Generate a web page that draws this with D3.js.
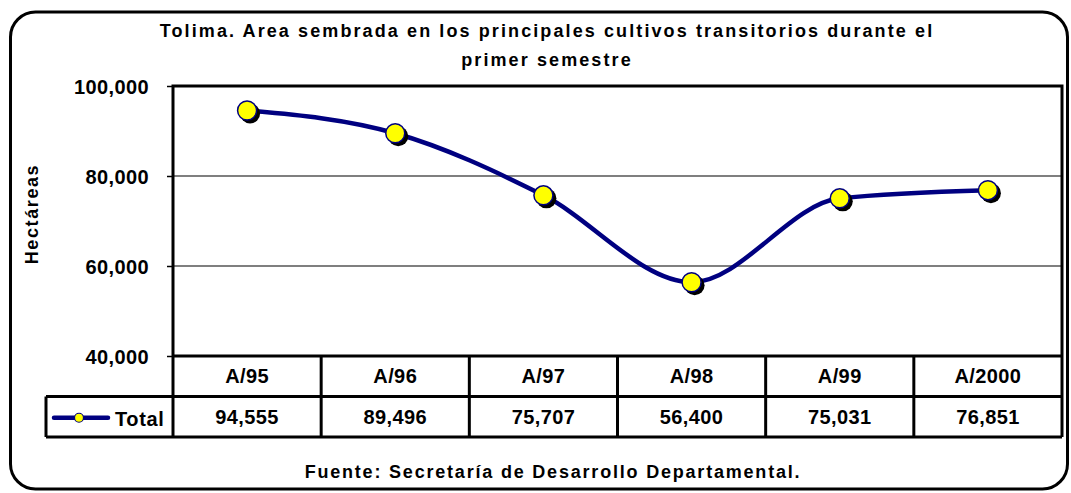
<!DOCTYPE html>
<html><head><meta charset="utf-8">
<script src="https://cdn.jsdelivr.net/npm/d3@7"></script>
<style>
body{margin:0;background:#fff;}
text{font-family:"Liberation Sans",Arial,sans-serif;font-weight:bold;fill:#000;}
</style></head>
<body><svg id="c" width="1071" height="493"></svg>
<script>
const categories = ["A/95","A/96","A/97","A/98","A/99","A/2000"];
const values = [94555, 89496, 75707, 56400, 75031, 76851];
const yTicks = [40000, 60000, 80000, 100000];
const seriesName = "Total";
const titleLines = ["Tolima. Area sembrada en los principales cultivos transitorios durante el","primer semestre"];
const yLabel = "Hectáreas";
const footer = "Fuente: Secretaría de Desarrollo Departamental.";

const svg = d3.select("#c");
const L = 173, R = 1062, T = 86, B = 356, rowH = 40.5, legL = 46;
const fmt = d3.format(",");

svg.append("rect").attr("x",10.5).attr("y",12).attr("width",1057).attr("height",477)
  .attr("rx",25).attr("ry",25).attr("fill","#fff").attr("stroke","#000").attr("stroke-width",3);

const x = d3.scaleBand().domain(categories).range([L,R]);
const y = d3.scaleLinear().domain([40000,100000]).range([B,T]);

// title
svg.selectAll("text.title").data(titleLines).join("text").attr("class","title")
  .attr("x",547).attr("y",(d,i)=>37+i*29).attr("text-anchor","middle")
  .style("font-size","18px").style("letter-spacing","2.1px").text(d=>d);

// gridlines
svg.append("g").selectAll("line").data(yTicks.filter(t=>t>40000&&t<100000)).join("line")
  .attr("x1",L).attr("x2",R).attr("y1",d=>y(d)).attr("y2",d=>y(d))
  .attr("stroke","#555").attr("stroke-width",1.5);

// y axis
const yAxis = svg.append("g").attr("transform",`translate(${L},0)`)
  .call(d3.axisLeft(y).tickValues(yTicks).tickFormat(fmt).tickSize(6).tickPadding(18));
yAxis.select(".domain").remove();
yAxis.selectAll(".tick line").attr("stroke","#000").attr("stroke-width",1.5);
yAxis.selectAll(".tick text").style("font-size","20px").style("letter-spacing","0.4px")
  .style("font-family","Liberation Sans, Arial, sans-serif").style("font-weight","bold").attr("fill","#000").attr("dy","0.35em");

// plot border
svg.append("path").attr("d",`M${L},${B}V${T}H${R}V${B}`).attr("fill","none").attr("stroke","#000").attr("stroke-width",3);
svg.append("line").attr("x1",L).attr("x2",R).attr("y1",B).attr("y2",B).attr("stroke","#000").attr("stroke-width",3);

// y label
svg.append("text").attr("transform",`translate(38,214) rotate(-90)`).attr("text-anchor","middle")
  .style("font-size","18px").style("letter-spacing","1.6px").text(yLabel);

// line
const cx = d => x(d)+x.bandwidth()/2;
const line = d3.line().x((d,i)=>cx(categories[i])).y(d=>y(d)).curve(d3.curveMonotoneX);
svg.append("path").datum(values).attr("d",line).attr("fill","none").attr("stroke","#000080").attr("stroke-width",4.5);

// markers
const mk = svg.append("g");
mk.selectAll("circle.sh").data(values).join("circle").attr("class","sh")
  .attr("cx",(d,i)=>cx(categories[i])+3).attr("cy",d=>y(d)+3).attr("r",10).attr("fill","#000");
mk.selectAll("circle.pt").data(values).join("circle").attr("class","pt")
  .attr("cx",(d,i)=>cx(categories[i])).attr("cy",d=>y(d)).attr("r",9.5)
  .attr("fill","#ffff00").attr("stroke","#000080").attr("stroke-width",1.5);

// data table
const tb = svg.append("g");
const r1 = B + rowH, r2 = B + 2*rowH;
tb.append("line").attr("x1",legL).attr("x2",R).attr("y1",r1).attr("y2",r1).attr("stroke","#000").attr("stroke-width",3);
tb.append("line").attr("x1",legL).attr("x2",R).attr("y1",r2).attr("y2",r2).attr("stroke","#000").attr("stroke-width",3);
tb.append("line").attr("x1",legL).attr("x2",legL).attr("y1",r1).attr("y2",r2).attr("stroke","#000").attr("stroke-width",3);
tb.selectAll("line.col").data(categories.concat(["_end"])).join("line").attr("class","col")
  .attr("x1",(d,i)=>L+i*x.bandwidth()).attr("x2",(d,i)=>L+i*x.bandwidth())
  .attr("y1",B).attr("y2",r2).attr("stroke","#000").attr("stroke-width",3);
tb.selectAll("text.cat").data(categories).join("text").attr("class","cat")
  .attr("x",d=>cx(d)).attr("y",B+rowH/2).attr("dy","0.36em").attr("text-anchor","middle")
  .style("font-size","20px").style("letter-spacing","0.4px").text(d=>d);
tb.selectAll("text.val").data(values).join("text").attr("class","val")
  .attr("x",(d,i)=>cx(categories[i])).attr("y",r1+rowH/2).attr("dy","0.36em").attr("text-anchor","middle")
  .style("font-size","20px").style("letter-spacing","0.4px").text(d=>fmt(d));
// legend key
tb.append("line").attr("x1",54).attr("x2",108).attr("y1",r1+rowH/2+1).attr("y2",r1+rowH/2+1)
  .attr("stroke","#000080").attr("stroke-width",4.5).attr("stroke-linecap","round");
tb.append("circle").attr("cx",79).attr("cy",r1+rowH/2+1).attr("r",4.5).attr("fill","#ffff00").attr("stroke","#000080").attr("stroke-width",1.2);
tb.append("text").attr("x",115).attr("y",r1+rowH/2+2).attr("dy","0.36em")
  .style("font-size","20px").style("letter-spacing","0.6px").text(seriesName);

// footer
svg.append("text").attr("x",553).attr("y",478).attr("text-anchor","middle")
  .style("font-size","18px").style("letter-spacing","1.8px").text(footer);
</script></body></html>
